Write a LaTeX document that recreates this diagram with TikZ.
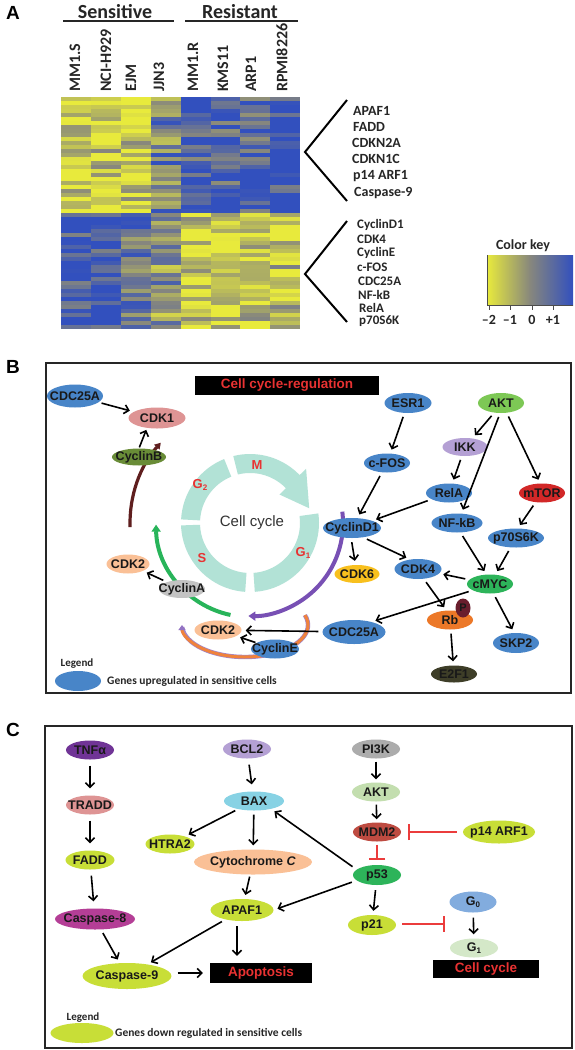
\documentclass[tikz,border=0pt]{standalone}
\usepackage{fontspec}
\setmainfont{Liberation Sans}
\newfontfamily\calfont{Carlito}
\usetikzlibrary{shapes.geometric,arrows.meta,calc}
\newcommand\fs[1]{\fontsize{#1}{#1}\selectfont}
\definecolor{hmY}{RGB}{232,234,60}
\definecolor{hmG}{RGB}{135,135,125}
\definecolor{hmB}{RGB}{50,80,190}
\definecolor{gBlue}{RGB}{72,133,200}
\definecolor{gPink}{RGB}{222,148,148}
\definecolor{gOlive}{RGB}{105,140,55}
\definecolor{gPeach}{RGB}{250,192,150}
\definecolor{gGray}{RGB}{195,195,195}
\definecolor{gGrayb}{RGB}{172,172,172}
\definecolor{gGold}{RGB}{248,192,30}
\definecolor{gOrange}{RGB}{236,120,40}
\definecolor{gMaroon}{RGB}{105,30,45}
\definecolor{gDark}{RGB}{62,62,40}
\definecolor{gGreen}{RGB}{45,180,90}
\definecolor{gLGreen}{RGB}{125,200,85}
\definecolor{gLav}{RGB}{180,160,212}
\definecolor{gRed}{RGB}{210,40,40}
\definecolor{gYG}{RGB}{200,222,55}
\definecolor{gPurple}{RGB}{112,52,150}
\definecolor{gMag}{RGB}{180,62,150}
\definecolor{gCyan}{RGB}{135,210,228}
\definecolor{gPale}{RGB}{195,222,175}
\definecolor{gMdm}{RGB}{190,75,65}
\definecolor{gGzero}{RGB}{130,172,222}
\definecolor{gGone}{RGB}{212,232,200}
\definecolor{ringC}{RGB}{178,226,214}
\definecolor{cycRed}{RGB}{232,50,50}
\definecolor{arcMaroon}{RGB}{95,30,30}
\definecolor{arcGreen}{RGB}{40,180,90}
\definecolor{arcPurple}{RGB}{120,80,180}
\definecolor{arcOrange}{RGB}{240,130,60}
\definecolor{inhRed}{RGB}{235,60,60}
\definecolor{txtGray}{RGB}{38,38,38}
\newcommand\gn[7]{%
  \node[gene, fill=#6, minimum width=#4pt, minimum height=#5pt] (#1) at (#2,#3) {};
  \node[gtext] (#1t) at (#1) {#7};}
\newcommand\seg[2]{\fill[ringC] ($(cc)+(#1:69)$) arc[start angle=#1, end angle=#2, radius=69] -- ($(cc)+(#2:50)$) arc[start angle=#2, end angle=#1, radius=50] -- cycle;}
\begin{document}
\begin{tikzpicture}[x=1pt,y=-1pt,
  gene/.style={ellipse, inner sep=0pt, draw=none},
  gtext/.style={font=\bfseries\fs{12.5}, text=black!90, inner sep=0pt},
  arr/.style={line width=1.6pt, -{Straight Barb[length=4.5pt,width=9pt]}, shorten >=4pt, shorten <=4pt},
  inh/.style={line width=1.6pt, inhRed, -{Bar[width=16pt]}},
  hmlab/.style={font=\calfont\bfseries\fs{16}, text=txtGray, rotate=90, anchor=west, inner sep=0pt},
  glab/.style={font=\calfont\bfseries\fs{14}, text=txtGray, anchor=west, inner sep=0pt},
  glabs/.style={font=\calfont\bfseries\fs{13}, text=txtGray, anchor=west, inner sep=0pt},
  plab/.style={font=\bfseries\fs{19}, inner sep=0pt},
  blackbox/.style={fill=black, inner sep=0pt, text=cycRed, font=\bfseries\fs{13.5}},
  panel/.style={draw=black!85, line width=1.4pt}]
\useasboundingbox (0,0) rectangle (574,1050);
\fill[white] (0,0) rectangle (574,1050);

% ---------------- Panel A ----------------
\node[plab] (labA) at (13,13) {A};
\node[font=\calfont\bfseries\fs{20}, text=txtGray, inner sep=0pt] (sens) at (115,12) {Sensitive};
\node[font=\calfont\bfseries\fs{20}, text=txtGray, inner sep=0pt] (resi) at (240,12) {Resistant};
\draw[line width=1.3pt, txtGray] (63,21) -- (174,21);
\draw[line width=1.3pt, txtGray] (185,21) -- (298,21);
\node[hmlab] (c1) at (75,92) {MM1.S};
\node[hmlab] (c2) at (106,92) {NCI-H929};
\node[hmlab] (c3) at (131,92) {EJM};
\node[hmlab] (c4) at (159,92) {JJN3};
\node[hmlab] (c5) at (193,92) {MM1.R};
\node[hmlab] (c6) at (223,92) {KMS11};
\node[hmlab] (c7) at (251,92) {ARP1};
\node[hmlab] (c8) at (282,92) {RPMI8226};

\pgfmathsetseed{42}
\foreach \col/\mt/\mb in {0/-1.3/1.2, 1/-1.1/1.2, 2/-1.1/0.7, 3/0.2/-0.2, 4/1.1/-1.1, 5/1.0/-1.3, 6/0.9/-1.1, 7/1.4/-1.0}{
  \foreach \row in {0,...,57}{
    \pgfmathsetmacro{\vv}{(\row<29 ? \mt : \mb) + 1.2*rand}
    \pgfmathtruncatemacro{\isneg}{\vv<0 ? 1 : 0}
    \ifnum\isneg=1
      \pgfmathtruncatemacro{\pp}{min(100,0-(\vv)*60)}
      \fill[hmY!\pp!hmG] ({61+29.9*\col},{97+4*\row}) rectangle ({61+29.9*(\col+1)},{101.3+4*\row});
    \else
      \pgfmathtruncatemacro{\pp}{min(100,(\vv)*75)}
      \fill[hmB!\pp!hmG] ({61+29.9*\col},{97+4*\row}) rectangle ({61+29.9*(\col+1)},{101.3+4*\row});
    \fi
  }
}

\draw[line width=2pt] (347,100) -- (305,152) -- (347,201);
\draw[line width=2pt] (347,221) -- (305,274) -- (347,322);
\node[glab] (gA1) at (353,111) {APAF1};
\node[glab] (gA2) at (353,127) {FADD};
\node[glab] (gA3) at (352,143) {CDKN2A};
\node[glab] (gA4) at (352,159) {CDKN1C};
\node[glab] (gA5) at (353,176) {p14 ARF1};
\node[glab] (gA6) at (354,193) {Caspase-9};
\node[glabs] (gB1) at (357,225) {CyclinD1};
\node[glabs] (gB2) at (357,239) {CDK4};
\node[glabs] (gB3) at (357,253) {CyclinE};
\node[glabs] (gB4) at (357,267) {c-FOS};
\node[glabs] (gB5) at (358,281) {CDC25A};
\node[glabs] (gB6) at (358,294.5) {NF-kB};
\node[glabs] (gB7) at (359,308) {RelA};
\node[glabs] (gB8) at (359,321.5) {p70S6K};

\node[font=\calfont\bfseries\fs{14}, text=txtGray, inner sep=0pt] (ckey) at (523,246) {Color key};
\shade[left color=hmY, right color=hmB, middle color=hmG] (487,255) rectangle (573,305);
\draw[line width=1pt, black!70] (487,255) -- (487,305) -- (573,305);
\foreach \tx in {489,510,532,553} \draw[line width=1pt, black!70] (\tx,305) -- (\tx,310);
\node[font=\calfont\bfseries\fs{14}, text=txtGray, inner sep=0pt] (k1) at (489,320) {–2};
\node[font=\calfont\bfseries\fs{14}, text=txtGray, inner sep=0pt] (k2) at (510,320) {–1};
\node[font=\calfont\bfseries\fs{14}, text=txtGray, inner sep=0pt] (k3) at (532,320) {0};
\node[font=\calfont\bfseries\fs{14}, text=txtGray, inner sep=0pt] (k4) at (553,320) {+1};

% ---------------- Panel B ----------------
\node[plab] (labB) at (13,367) {B};
\draw[panel] (46,363) rectangle (571,693);
\node[blackbox, minimum width=184pt, minimum height=19pt] (titleB) at (287,385.5) {Cell cycle-regulation};

\coordinate (cc) at (250,523);
\seg{256}{318}
\fill[ringC] ($(cc)+(316:41)$) -- ($(cc)+(316:78)$) -- ($(cc)+(346:61)$) -- cycle;
\seg{352}{446}
\seg{94}{178}
\seg{183}{248}
\node[font=\fs{15}, text=black!80, inner sep=0pt] (cctext) at (252,523) {Cell cycle};
\node[font=\bfseries\fs{13}, text=cycRed, inner sep=0pt] (lM) at (257,465) {M};
\node[font=\bfseries\fs{13}, text=cycRed, inner sep=0pt] (lG2) at (200,485) {G\raisebox{-2pt}{\fs{8}2}};
\node[font=\bfseries\fs{13}, text=cycRed, inner sep=0pt] (lS) at (202,558) {S};
\node[font=\bfseries\fs{13}, text=cycRed, inner sep=0pt] (lG1) at (303,553) {G\raisebox{-2pt}{\fs{8}1}};

\draw[arcMaroon, line width=3.2pt, -{Triangle[length=6pt,width=7pt]}] ($(cc)+(178:120)$) arc[start angle=178, end angle=222, radius=120];
\draw[arcGreen, line width=4pt, -{Triangle[length=7pt,width=9pt]}] ($(cc)+(102:94)$) arc[start angle=102, end angle=179, radius=94];
\draw[arcPurple, line width=4pt, -{Triangle[length=7pt,width=9pt]}] ($(cc)+(-7:93)$) arc[start angle=-7, end angle=91, radius=93];
\coordinate (oc) at (245,625);
\draw[arcPurple!70, line width=4.4pt] ($(oc)+(-18:63 and 32)$) arc[start angle=-18, end angle=176, x radius=63, y radius=32];
\draw[arcOrange, line width=3pt, -{Triangle[length=5pt,width=7pt,color=arcPurple!80]}] ($(oc)+(-18:63 and 32)$) arc[start angle=-18, end angle=180, x radius=63, y radius=32];

\gn{CDCa}{75}{396}{56}{23}{gBlue}{CDC25A}
\gn{CDKone}{157}{418}{57}{21}{gPink}{CDK1}
\gn{CycB}{139}{457}{54}{17}{gOlive}{CyclinB}
\gn{CDKa}{128}{564}{43}{19}{gPeach}{CDK2}
\gn{CycA}{182}{589}{46}{18}{gGray}{CyclinA}
\gn{CDKb}{218}{630}{47}{19}{gPeach}{CDK2}
\gn{CycE}{275}{649}{48}{19}{gBlue}{CyclinE}
\gn{CDCb}{354}{632}{63}{24}{gBlue}{CDC25A}
\gn{Rb}{450}{620}{46}{19}{gOrange}{Rb}
\node[gene, fill=gMaroon, minimum width=15pt, minimum height=19pt] (Pc) at (463,608) {};
\node[gtext, font=\bfseries\fs{11}] (Pct) at (Pc) {P};
\gn{EtwoF}{454}{674}{46}{17}{gDark}{E2F1}
\gn{SKP}{516}{643}{46}{20}{gBlue}{SKP2}
\gn{cMYC}{490}{584}{46}{19}{gGreen}{cMYC}
\gn{CDKfour}{418}{569}{47}{20}{gBlue}{CDK4}
\gn{CDKsix}{357}{574}{45}{18}{gGold}{CDK6}
\gn{CycD}{352}{528}{58}{20}{gBlue}{CyclinD1}
\gn{cFOS}{387}{463}{46}{19}{gBlue}{c-FOS}
\gn{ESR}{408}{403}{47}{20}{gBlue}{ESR1}
\gn{AKTb}{501}{403}{46}{20}{gLGreen}{AKT}
\gn{IKK}{465}{447}{45}{18}{gLav}{IKK}
\gn{RelA}{449}{493}{46}{19}{gBlue}{RelA}
\gn{mTOR}{542}{493}{46}{19}{gRed}{mTOR}
\gn{NFkB}{457}{523}{51}{19}{gBlue}{NF-kB}
\gn{pS}{516}{538}{56}{19}{gBlue}{p70S6K}

\draw[arr, shorten <=3pt] (CDCa) -- (CDKone);
\draw[arr, shorten <=1pt, shorten >=2pt] (CycB.north) -- (CDKone.225);
\draw[arr] (CycA) -- (CDKa);
\draw[arr, shorten <=1pt] (CycE) -- (CDKb);
\draw[arr] (CDCb) -- (CDKb);
\draw[arr] (ESR) -- (cFOS);
\draw[arr] (cFOS) -- (CycD);
\draw[arr] (AKTb.235) -- (IKK);
\draw[arr] (AKTb.265) -- (NFkB.65);
\draw[arr] (AKTb.300) -- (mTOR.100);
\draw[arr] (IKK) -- (RelA);
\draw[arr] (RelA) -- (CycD);
\draw[arr] (mTOR) -- (pS.80);
\draw[arr] (NFkB.290) -- (cMYC.110);
\draw[arr] (pS) -- (cMYC);
\draw[arr] (cMYC) -- (CDKfour);
\draw[arr] (CycD.265) -- (CDKsix);
\draw[arr] (CycD.320) -- (CDKfour.130);
\draw[arr] (CDKfour.300) -- (Rb.110);
\draw[arr] (cMYC.200) -- (CDCb.30);
\draw[arr] (cMYC.290) -- (SKP.100);
\draw[arr] (Rb) -- (EtwoF);

\node[font=\calfont\bfseries\fs{11}, text=txtGray, inner sep=0pt] (legB) at (77,664) {Legend};
\node[gene, fill=gBlue, minimum width=46pt, minimum height=20pt] (legBe) at (78,681) {};
\node[font=\calfont\bfseries\fs{11.5}, text=txtGray, anchor=west, inner sep=0pt] (legBt) at (107,681) {Genes upregulated in sensitive cells};

% ---------------- Panel C ----------------
\node[plab] (labC) at (13,730) {C};
\draw[panel] (45,726) rectangle (572,1048);

\gn{TNF}{90}{750}{48}{19}{gPurple}{TNFα}
\gn{TRADD}{90}{805}{48}{19}{gPink}{TRADD}
\gn{FADD}{90}{860}{49}{19}{gYG}{FADD}
\gn{Caseight}{95}{919}{80}{21}{gMag}{Caspase-8}
\gn{Casnine}{127}{976}{89}{26}{gYG}{Caspase-9}
\gn{BCL}{247}{749}{48}{19}{gLav}{BCL2}
\gn{BAX}{254}{801}{60}{19}{gCyan}{BAX}
\gn{HTRA}{170}{844}{49}{19}{gYG}{HTRA2}
\gn{CytC}{253}{862}{118}{25}{gPeach}{Cytochrome \textit{C}}
\gn{APAF}{242}{910}{63}{22}{gYG}{APAF1}
\gn{PIK}{376}{749}{48}{19}{gGrayb}{PI3K}
\gn{AKTc}{376}{792}{48}{19}{gPale}{AKT}
\gn{MDM}{377}{832}{48}{19}{gMdm}{MDM2}
\gn{pARF}{499}{832}{72}{23}{gYG}{p14 ARF1}
\gn{pft}{377}{875}{48}{20}{gGreen}{p53}
\gn{ptw}{372}{925}{48}{20}{gYG}{p21}
\gn{Gzero}{473}{902}{47}{21}{gGzero}{G\raisebox{-2pt}{\fs{8}0}}
\gn{Gone}{474}{948}{48}{19}{gGone}{G\raisebox{-2pt}{\fs{8}1}}
\node[blackbox, minimum width=102pt, minimum height=20pt] (apop) at (261,973) {Apoptosis};
\node[blackbox, minimum width=106pt, minimum height=18pt] (ccbox) at (486,969) {Cell cycle};

\draw[arr, shorten <=6pt, shorten >=7pt] (TNF) -- (TRADD);
\draw[arr, shorten <=6pt, shorten >=7pt] (TRADD) -- (FADD);
\draw[arr, shorten <=6pt, shorten >=7pt] (FADD) -- (Caseight);
\draw[arr] (Caseight) -- (Casnine);
\draw[arr, shorten <=6pt, shorten >=7pt] (Casnine.east |- apop.west) -- (apop.west);
\draw[arr, shorten <=6pt, shorten >=7pt] (BCL) -- (BAX);
\draw[arr, shorten <=3pt] (BAX) -- (HTRA);
\draw[arr] (BAX) -- (CytC);
\draw[arr, shorten <=2pt] (CytC) -- (APAF);
\draw[arr] (APAF) -- (Casnine);
\draw[arr, shorten <=5pt, shorten >=7pt] ([xshift=-5pt]APAF.south) -- ([xshift=-5pt]APAF.south |- apop.north);
\draw[arr, shorten <=5pt] (pft.165) -- (BAX.-25);
\draw[arr, shorten <=5pt] (pft.195) -- (APAF.east);
\draw[arr, shorten <=3pt, shorten >=3pt] (PIK) -- (AKTc);
\draw[arr, shorten <=3pt, shorten >=3pt] (AKTc) -- (MDM);
\draw[arr, shorten <=5pt, shorten >=4pt] (pft) -- (ptw);
\draw[arr, shorten <=5pt, shorten >=4pt] (Gzero) -- (Gone);
\draw[inh, shorten <=6pt, shorten >=7pt] (pARF) -- (MDM);
\draw[inh, shorten <=3pt, shorten >=5pt] (MDM) -- (pft);
\coordinate (gstop) at (445,924);
\draw[inh, shorten <=6pt] (ptw.east |- gstop) -- (gstop);

\node[font=\calfont\bfseries\fs{11}, text=txtGray, inner sep=0pt] (legC) at (83,1018) {Legend};
\node[gene, fill=gYG, minimum width=63pt, minimum height=20pt] (legCe) at (82,1033) {};
\node[font=\calfont\bfseries\fs{11.5}, text=txtGray, anchor=west, inner sep=0pt] (legCt) at (115,1033) {Genes down regulated in sensitive cells};
\end{tikzpicture}
\end{document}
